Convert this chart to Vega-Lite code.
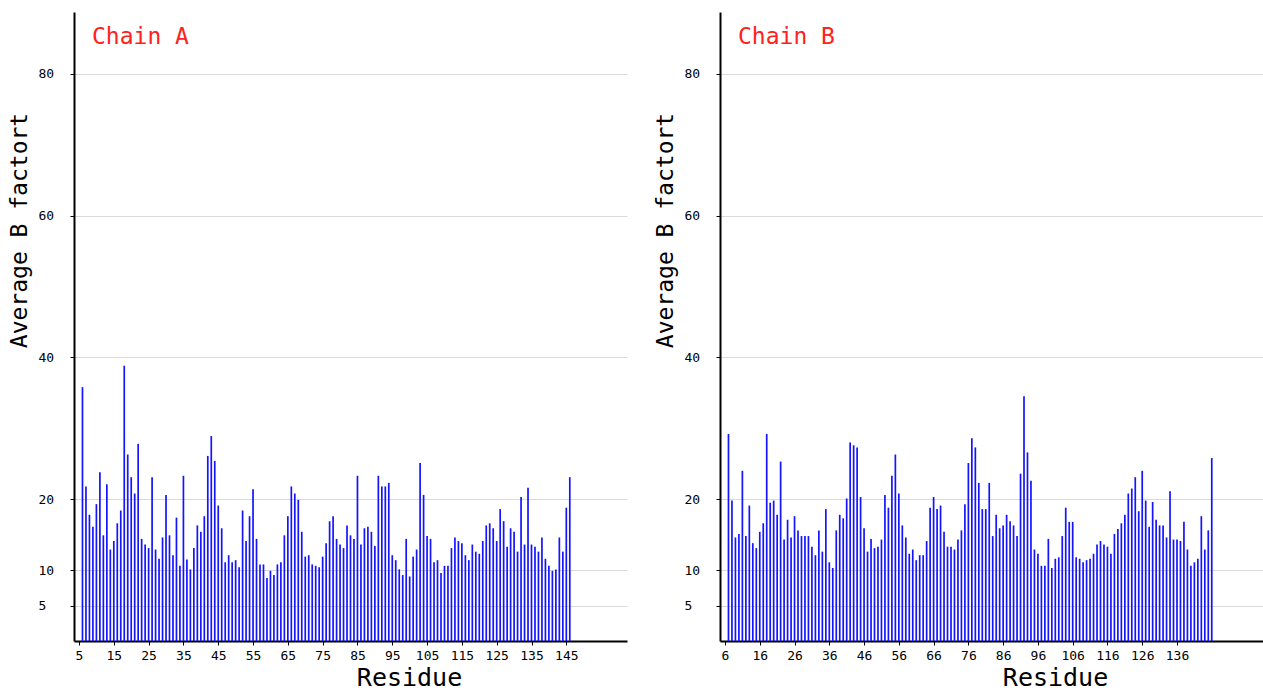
{
  "$schema": "https://vega.github.io/schema/vega-lite/v6.json",
  "autosize": {"type": "pad"},
  "padding": {"left": 8, "top": 12, "right": 0, "bottom": 0},
  "background": "white",
  "bounds": "flush",
  "spacing": 93,
  "config": {
    "view": {"stroke": null},
    "font": "DejaVu Sans Mono",
    "title": {"font": "DejaVu Sans Mono", "fontSize": 23, "fontWeight": "normal", "color": "#ff2020", "anchor": "start", "frame": "group", "offset": -37, "baseline": "alphabetic", "dx": 18},
    "axis": {"labelFont": "DejaVu Sans Mono", "labelFontSize": 13, "labelColor": "#000000", "titleFont": "DejaVu Sans Mono", "titleFontWeight": "normal", "titleColor": "#000000", "domainColor": "#000000", "domainWidth": 2, "tickColor": "#000000", "tickSize": 4, "gridColor": "#d9d9d9", "gridWidth": 1}
  },
  "datasets": {
    "chainA": [
      {"r":6,"b":35.8},{"r":7,"b":21.8},{"r":8,"b":17.8},{"r":9,"b":16.1},{"r":10,"b":19.3},{"r":11,"b":23.8},{"r":12,"b":14.9},{"r":13,"b":22.1},{"r":14,"b":12.9},{"r":15,"b":14.1},
      {"r":16,"b":16.6},{"r":17,"b":18.4},{"r":18,"b":38.8},{"r":19,"b":26.3},{"r":20,"b":23.1},{"r":21,"b":20.8},{"r":22,"b":27.8},{"r":23,"b":14.4},{"r":24,"b":13.6},{"r":25,"b":13.1},
      {"r":26,"b":23.1},{"r":27,"b":12.9},{"r":28,"b":11.6},{"r":29,"b":14.6},{"r":30,"b":20.6},{"r":31,"b":14.9},{"r":32,"b":12.1},{"r":33,"b":17.4},{"r":34,"b":10.6},{"r":35,"b":23.3},
      {"r":36,"b":11.5},{"r":37,"b":10.1},{"r":38,"b":13.1},{"r":39,"b":16.3},{"r":40,"b":15.4},{"r":41,"b":17.6},{"r":42,"b":26.1},{"r":43,"b":28.9},{"r":44,"b":25.4},{"r":45,"b":19.1},
      {"r":46,"b":15.9},{"r":47,"b":11.1},{"r":48,"b":12.1},{"r":49,"b":11.1},{"r":50,"b":11.4},{"r":51,"b":10.4},{"r":52,"b":18.4},{"r":53,"b":14.1},{"r":54,"b":17.6},{"r":55,"b":21.4},
      {"r":56,"b":14.4},{"r":57,"b":10.8},{"r":58,"b":10.8},{"r":59,"b":8.9},{"r":60,"b":9.9},{"r":61,"b":9.3},{"r":62,"b":10.8},{"r":63,"b":11.1},{"r":64,"b":14.9},{"r":65,"b":17.6},
      {"r":66,"b":21.8},{"r":67,"b":20.8},{"r":68,"b":19.9},{"r":69,"b":15.4},{"r":70,"b":11.9},{"r":71,"b":12.1},{"r":72,"b":10.8},{"r":73,"b":10.6},{"r":74,"b":10.4},{"r":75,"b":11.9},
      {"r":76,"b":13.8},{"r":77,"b":16.9},{"r":78,"b":17.6},{"r":79,"b":14.4},{"r":80,"b":13.6},{"r":81,"b":13.1},{"r":82,"b":16.3},{"r":83,"b":14.9},{"r":84,"b":14.4},{"r":85,"b":23.3},
      {"r":86,"b":13.6},{"r":87,"b":15.9},{"r":88,"b":16.1},{"r":89,"b":15.4},{"r":90,"b":13.4},{"r":91,"b":23.3},{"r":92,"b":21.8},{"r":93,"b":21.8},{"r":94,"b":22.3},{"r":95,"b":12.1},
      {"r":96,"b":11.4},{"r":97,"b":10.1},{"r":98,"b":9.3},{"r":99,"b":14.4},{"r":100,"b":9.1},{"r":101,"b":11.9},{"r":102,"b":12.9},{"r":103,"b":25.1},{"r":104,"b":20.6},{"r":105,"b":14.8},
      {"r":106,"b":14.4},{"r":107,"b":11.1},{"r":108,"b":11.4},{"r":109,"b":9.6},{"r":110,"b":10.6},{"r":111,"b":10.6},{"r":112,"b":13.1},{"r":113,"b":14.6},{"r":114,"b":14.1},{"r":115,"b":13.8},
      {"r":116,"b":12.1},{"r":117,"b":11.4},{"r":118,"b":13.6},{"r":119,"b":12.6},{"r":120,"b":12.3},{"r":121,"b":14.1},{"r":122,"b":16.3},{"r":123,"b":16.6},{"r":124,"b":15.9},{"r":125,"b":14.1},
      {"r":126,"b":18.6},{"r":127,"b":16.9},{"r":128,"b":13.3},{"r":129,"b":15.9},{"r":130,"b":15.4},{"r":131,"b":12.6},{"r":132,"b":20.3},{"r":133,"b":13.6},{"r":134,"b":21.6},{"r":135,"b":13.6},
      {"r":136,"b":13.3},{"r":137,"b":12.6},{"r":138,"b":14.6},{"r":139,"b":11.6},{"r":140,"b":10.6},{"r":141,"b":9.9},{"r":142,"b":10.1},{"r":143,"b":14.6},{"r":144,"b":12.6},{"r":145,"b":18.8},
      {"r":146,"b":23.1}
    ],
    "chainB": [
      {"r":7,"b":29.2},{"r":8,"b":19.8},{"r":9,"b":14.6},{"r":10,"b":15.1},{"r":11,"b":24.0},{"r":12,"b":14.8},{"r":13,"b":19.1},{"r":14,"b":13.8},{"r":15,"b":13.1},{"r":16,"b":15.4},
      {"r":17,"b":16.6},{"r":18,"b":29.2},{"r":19,"b":19.5},{"r":20,"b":19.8},{"r":21,"b":17.8},{"r":22,"b":25.3},{"r":23,"b":14.3},{"r":24,"b":17.1},{"r":25,"b":14.6},{"r":26,"b":17.6},
      {"r":27,"b":15.6},{"r":28,"b":14.8},{"r":29,"b":14.8},{"r":30,"b":14.8},{"r":31,"b":13.3},{"r":32,"b":12.1},{"r":33,"b":15.6},{"r":34,"b":12.6},{"r":35,"b":18.6},{"r":36,"b":11.1},
      {"r":37,"b":10.3},{"r":38,"b":15.6},{"r":39,"b":17.8},{"r":40,"b":17.3},{"r":41,"b":20.1},{"r":42,"b":28.0},{"r":43,"b":27.6},{"r":44,"b":27.3},{"r":45,"b":20.3},{"r":46,"b":15.9},
      {"r":47,"b":12.6},{"r":48,"b":14.4},{"r":49,"b":13.1},{"r":50,"b":13.3},{"r":51,"b":14.3},{"r":52,"b":20.6},{"r":53,"b":18.8},{"r":54,"b":23.3},{"r":55,"b":26.3},{"r":56,"b":20.8},
      {"r":57,"b":16.3},{"r":58,"b":14.6},{"r":59,"b":12.3},{"r":60,"b":12.9},{"r":61,"b":11.4},{"r":62,"b":12.1},{"r":63,"b":12.1},{"r":64,"b":14.1},{"r":65,"b":18.8},{"r":66,"b":20.3},
      {"r":67,"b":18.6},{"r":68,"b":19.1},{"r":69,"b":15.4},{"r":70,"b":13.3},{"r":71,"b":13.3},{"r":72,"b":12.9},{"r":73,"b":14.3},{"r":74,"b":15.6},{"r":75,"b":19.3},{"r":76,"b":25.1},
      {"r":77,"b":28.6},{"r":78,"b":27.3},{"r":79,"b":22.3},{"r":80,"b":18.6},{"r":81,"b":18.6},{"r":82,"b":22.3},{"r":83,"b":14.8},{"r":84,"b":17.8},{"r":85,"b":15.9},{"r":86,"b":16.3},
      {"r":87,"b":17.8},{"r":88,"b":16.9},{"r":89,"b":16.3},{"r":90,"b":14.8},{"r":91,"b":23.6},{"r":92,"b":34.5},{"r":93,"b":26.6},{"r":94,"b":22.6},{"r":95,"b":12.9},{"r":96,"b":12.3},
      {"r":97,"b":10.6},{"r":98,"b":10.6},{"r":99,"b":14.4},{"r":100,"b":10.3},{"r":101,"b":11.6},{"r":102,"b":11.8},{"r":103,"b":14.8},{"r":104,"b":18.8},{"r":105,"b":16.8},{"r":106,"b":16.8},
      {"r":107,"b":11.8},{"r":108,"b":11.6},{"r":109,"b":11.1},{"r":110,"b":11.4},{"r":111,"b":11.6},{"r":112,"b":12.3},{"r":113,"b":13.6},{"r":114,"b":14.1},{"r":115,"b":13.6},{"r":116,"b":13.3},
      {"r":117,"b":12.3},{"r":118,"b":15.1},{"r":119,"b":15.8},{"r":120,"b":16.6},{"r":121,"b":17.8},{"r":122,"b":20.8},{"r":123,"b":21.5},{"r":124,"b":23.1},{"r":125,"b":18.3},{"r":126,"b":24.0},
      {"r":127,"b":19.8},{"r":128,"b":16.1},{"r":129,"b":19.6},{"r":130,"b":17.1},{"r":131,"b":16.3},{"r":132,"b":16.3},{"r":133,"b":14.6},{"r":134,"b":21.1},{"r":135,"b":14.3},{"r":136,"b":14.3},
      {"r":137,"b":14.1},{"r":138,"b":16.8},{"r":139,"b":12.9},{"r":140,"b":10.6},{"r":141,"b":11.1},{"r":142,"b":11.6},{"r":143,"b":17.6},{"r":144,"b":12.9},{"r":145,"b":15.6},{"r":146,"b":25.8}
    ]
  },
  "hconcat": [
    {
      "title": "Chain A",
      "width": 553,
      "height": 629,
      "data": {"name": "chainA"},
      "mark": {"type": "bar", "width": 1.7, "color": "#1414ff"},
      "encoding": {
        "x": {"field": "r", "type": "quantitative", "scale": {"domain": [5, 161], "nice": false, "zero": false},
              "axis": {"title": "Residue", "values": [5,15,25,35,45,55,65,75,85,95,105,115,125,135,145], "grid": false, "labelPadding": 4, "titleFontSize": 25, "titleX": 335, "titleY": 49, "titleBaseline": "bottom", "titleAlign": "center", "labelFlush": false}},
        "y": {"field": "b", "type": "quantitative", "scale": {"domain": [0, 88.7], "nice": false},
              "axis": {"title": "Average B factort", "values": [5,10,20,40,60,80], "grid": true, "labelAlign": "left", "labelPadding": 32, "titleFontSize": 23, "titleX": -55, "titleY": 218, "titleAngle": -90, "titleBaseline": "middle", "titleAlign": "center", "labelFlush": false}}
      }
    },
    {
      "title": "Chain B",
      "width": 543,
      "height": 629,
      "data": {"name": "chainB"},
      "mark": {"type": "bar", "width": 1.7, "color": "#1414ff"},
      "encoding": {
        "x": {"field": "r", "type": "quantitative", "scale": {"domain": [6, 159.3], "nice": false, "zero": false},
              "axis": {"title": "Residue", "values": [6,16,26,36,46,56,66,76,86,96,106,116,126,136], "grid": false, "labelPadding": 4, "titleFontSize": 25, "titleX": 335, "titleY": 49, "titleBaseline": "bottom", "titleAlign": "center", "labelFlush": false}},
        "y": {"field": "b", "type": "quantitative", "scale": {"domain": [0, 88.7], "nice": false},
              "axis": {"title": "Average B factort", "values": [5,10,20,40,60,80], "grid": true, "labelAlign": "left", "labelPadding": 32, "titleFontSize": 23, "titleX": -55, "titleY": 218, "titleAngle": -90, "titleBaseline": "middle", "titleAlign": "center", "labelFlush": false}}
      }
    }
  ]
}
